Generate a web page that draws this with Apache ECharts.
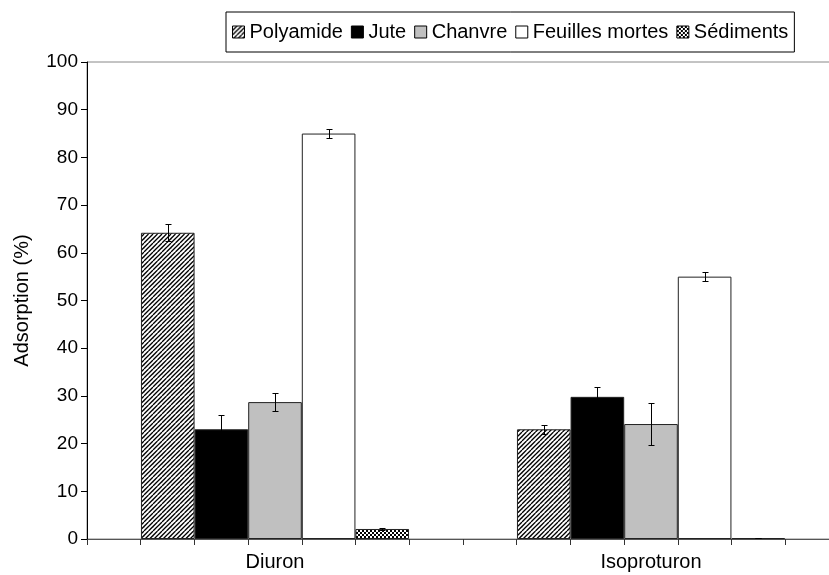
<!DOCTYPE html>
<html>
<head>
<meta charset="utf-8">
<script src="https://cdn.jsdelivr.net/npm/echarts@6/dist/echarts.min.js"></script>
<style>html,body{margin:0;padding:0;background:#fff;overflow:hidden}#c{width:839px;height:575px}</style>
</head>
<body>
<div id="c"></div>
<script>
// ---- data ----
var categories = ['Diuron', 'Isoproturon'];
var seriesNames = ['Polyamide', 'Jute', 'Chanvre', 'Feuilles mortes', 'Sédiments'];
var polyamide = [64.2, 23.0];
var polyamideErr = [1.8, 1.0];
var jute = [23.0, 29.8];
var juteErr = [2.9, 2.0];
var chanvre = [28.7, 24.1];
var chanvreErr = [1.9, 4.4];
var feuilles = [85.0, 55.0];
var feuillesErr = [1.0, 1.0];
var sediments = [2.1, 0.2];
var sedimentsErr = [0.3, 0.05];
var yTicks = [0, 10, 20, 30, 40, 50, 60, 70, 80, 90, 100];
var tickSlots = ['', '', '', '', '', '', '', '', '', '', '', '', '', ''];

var values = [polyamide, jute, chanvre, feuilles, sediments];
var errors = [polyamideErr, juteErr, chanvreErr, feuillesErr, sedimentsErr];

var FONT = 'Liberation Sans, Arial, sans-serif';
var CAT_GAP = 0.287;

function hatchPattern() {
  var s = 9, c = document.createElement('canvas');
  c.width = s; c.height = s;
  var g = c.getContext('2d');
  g.fillStyle = '#fff'; g.fillRect(0, 0, s, s);
  g.strokeStyle = '#000'; g.lineWidth = 1.3;
  var offs = [-s, -s / 2, 0, s / 2, s];
  offs.forEach(function (o) {
    g.beginPath(); g.moveTo(o, s); g.lineTo(o + s, 0); g.stroke();
  });
  return { image: c, repeat: 'repeat' };
}
function checkPattern() {
  var c = document.createElement('canvas');
  c.width = 4; c.height = 4;
  var g = c.getContext('2d');
  g.fillStyle = '#fff'; g.fillRect(0, 0, 4, 4);
  g.fillStyle = '#000';
  g.fillRect(0, 0, 2, 2); g.fillRect(2, 2, 2, 2);
  return { image: c, repeat: 'repeat' };
}
var fills = [hatchPattern(), '#000000', '#C0C0C0', '#FFFFFF', checkPattern()];

var series = [];
seriesNames.forEach(function (name, i) {
  series.push({
    name: name,
    type: 'bar',
    xAxisIndex: 0,
    data: values[i],
    barGap: '0%',
    barCategoryGap: (CAT_GAP * 100) + '%',
    itemStyle: { color: fills[i], borderColor: '#222', borderWidth: 1 },
    z: 2
  });
});
seriesNames.forEach(function (name, i) {
  var d = values[i].map(function (v, k) { return [k, v, errors[i][k]]; });
  series.push({
    type: 'custom',
    xAxisIndex: 0,
    z: 5,
    silent: true,
    data: d,
    renderItem: function (params, api) {
      var k = api.value(0), v = api.value(1), e = api.value(2);
      var catW = api.size([1, 0])[0];
      var barW = catW * (1 - CAT_GAP) / 5;
      var c = api.coord([k, v]);
      var x = Math.round(c[0] + (i - 2) * barW) + 0.5;
      var yt = Math.round(api.coord([k, v + e])[1]) + 0.5;
      var yb = Math.round(api.coord([k, Math.max(0, v - e)])[1]) + 0.5;
      var st = { stroke: '#000', lineWidth: 1 };
      return {
        type: 'group',
        children: [
          { type: 'line', shape: { x1: x, y1: yt, x2: x, y2: yb }, style: st },
          { type: 'line', shape: { x1: x - 3, y1: yt, x2: x + 3, y2: yt }, style: st },
          { type: 'line', shape: { x1: x - 3, y1: yb, x2: x + 3, y2: yb }, style: st }
        ]
      };
    }
  });
});

var chart = echarts.init(document.getElementById('c'), null, { renderer: 'canvas' });
chart.setOption({
  animation: false,
  backgroundColor: '#fff',
  textStyle: { fontFamily: FONT },
  legend: {
    data: seriesNames,
    left: 226,
    top: 12,
    padding: [10, 6, 10, 6],
    itemGap: 8,
    itemWidth: 12,
    itemHeight: 12,
    icon: 'rect',
    borderColor: '#000',
    borderWidth: 1,
    textStyle: { fontSize: 20, color: '#000', fontFamily: FONT, padding: [0, 0, 0, 0] },
    itemStyle: { borderColor: '#000', borderWidth: 1 }
  },
  grid: {
    left: 87, top: 62, bottom: 36, right: 0,
    show: true, borderColor: '#888', borderWidth: 1, backgroundColor: '#fff'
  },
  xAxis: [{
    type: 'category',
    data: categories,
    position: 'bottom',
    axisLine: { lineStyle: { color: '#555', width: 1 } },
    axisTick: { show: false },
    axisLabel: { fontSize: 20, color: '#000', margin: 13, fontFamily: FONT }
  }, {
    type: 'category',
    data: tickSlots,
    position: 'bottom',
    offset: 0,
    boundaryGap: true,
    axisLine: { show: false },
    axisTick: { show: true, length: 6, interval: 0, lineStyle: { color: '#333' } },
    axisLabel: { show: false }
  }],
  yAxis: {
    type: 'value',
    min: yTicks[0], max: yTicks[yTicks.length - 1], interval: 10,
    name: 'Adsorption (%)',
    nameLocation: 'middle',
    nameGap: 55,
    nameTextStyle: { fontSize: 20, color: '#000', fontFamily: FONT },
    axisLine: { show: true, lineStyle: { color: '#000' } },
    axisTick: { show: true, length: 6, lineStyle: { color: '#000' } },
    axisLabel: { fontSize: 19, color: '#000', margin: 9, fontFamily: FONT },
    splitLine: { show: false }
  },
  series: series
});
</script>
</body>
</html>
